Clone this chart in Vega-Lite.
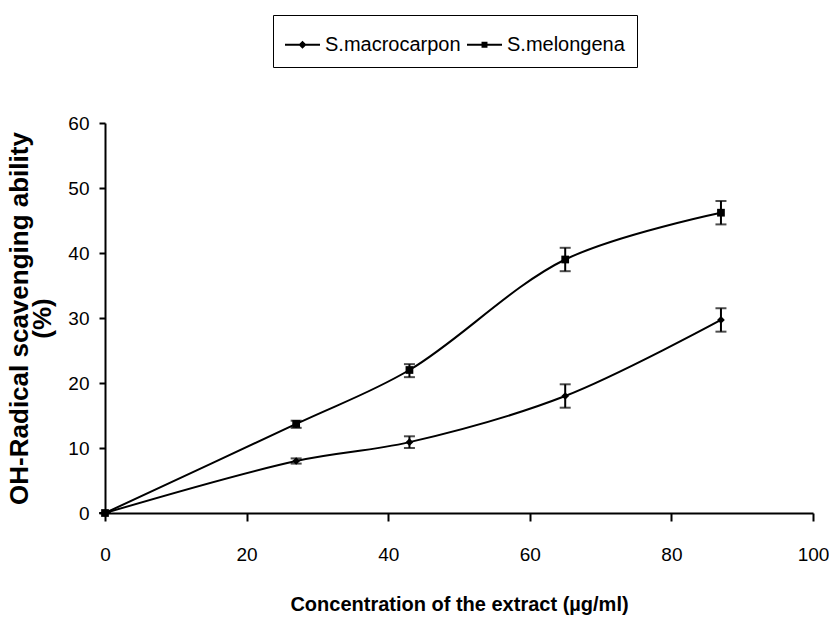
{
  "$schema": "https://vega.github.io/schema/vega-lite/v6.json",
  "width": 708,
  "height": 390,
  "padding": {"left": 6, "top": 14, "right": 10, "bottom": 5},
  "background": "white",
  "config": {
    "view": {"stroke": null},
    "font": "Liberation Sans",
    "axis": {"grid": false, "domainColor": "black", "tickColor": "black", "labelColor": "black", "titleColor": "black", "domainWidth": 2, "tickWidth": 2}
  },
  "resolve": {"scale": {"shape": "independent"}, "legend": {"shape": "independent"}},
  "data": {
    "values": [
      {"series": "S.macrocarpon", "name": "S.macrocarpon", "x": 0, "y": 0, "lo": 0, "hi": 0},
      {"series": "S.macrocarpon", "name": "S.macrocarpon", "x": 27, "y": 8.0, "lo": 7.6, "hi": 8.4},
      {"series": "S.macrocarpon", "name": "S.macrocarpon", "x": 43, "y": 10.9, "lo": 10.0, "hi": 11.8},
      {"series": "S.macrocarpon", "name": "S.macrocarpon", "x": 65, "y": 18.0, "lo": 16.2, "hi": 19.8},
      {"series": "S.macrocarpon", "name": "S.macrocarpon", "x": 87, "y": 29.7, "lo": 27.9, "hi": 31.5},
      {"series": "S.melongena", "name": "S.melongena", "x": 0, "y": 0, "lo": 0, "hi": 0},
      {"series": "S.melongena", "name": "S.melongena", "x": 27, "y": 13.7, "lo": 13.1, "hi": 14.2},
      {"series": "S.melongena", "name": "S.melongena", "x": 43, "y": 22.0, "lo": 20.9, "hi": 22.9},
      {"series": "S.melongena", "name": "S.melongena", "x": 65, "y": 39.0, "lo": 37.2, "hi": 40.8},
      {"series": "S.melongena", "name": "S.melongena", "x": 87, "y": 46.2, "lo": 44.4, "hi": 48.0}
    ]
  },
  "encoding": {
    "x": {
      "field": "x", "type": "quantitative",
      "scale": {"domain": [0, 100], "nice": false},
      "axis": {"values": [0, 20, 40, 60, 80, 100], "title": "Concentration of the extract (µg/ml)", "titleFontWeight": "bold", "titleFontSize": 20, "titlePadding": 30, "labelFontSize": 19, "labelPadding": 24, "tickSize": 8, "labelFlush": false}
    }
  },
  "layer": [
    {
      "mark": {"type": "line", "interpolate": "catmull-rom", "color": "black", "strokeWidth": 2},
      "encoding": {
        "y": {
          "field": "y", "type": "quantitative",
          "scale": {"domain": [0, 60], "nice": false},
          "axis": {"values": [0, 10, 20, 30, 40, 50, 60], "title": ["OH-Radical scavenging ability", "(%)"], "titleFontWeight": "bold", "titleFontSize": 26, "titleLineHeight": 23, "titlePadding": 12, "labelFontSize": 19, "labelPadding": 10, "tickSize": 6}
        },
        "detail": {"field": "series"}
      }
    },
    {
      "mark": {"type": "rule", "color": "black", "strokeWidth": 2},
      "encoding": {"y": {"field": "lo", "type": "quantitative"}, "y2": {"field": "hi"}}
    },
    {
      "mark": {"type": "tick", "color": "black", "orient": "horizontal", "size": 11, "thickness": 2},
      "encoding": {"y": {"field": "lo", "type": "quantitative"}}
    },
    {
      "mark": {"type": "tick", "color": "black", "orient": "horizontal", "size": 11, "thickness": 2},
      "encoding": {"y": {"field": "hi", "type": "quantitative"}}
    },
    {
      "mark": {"type": "point", "filled": true, "opacity": 1, "color": "black", "size": 60},
      "encoding": {
        "y": {"field": "y", "type": "quantitative"},
        "shape": {
          "field": "series", "type": "nominal",
          "scale": {"domain": ["S.macrocarpon", "S.melongena"], "range": ["diamond", "square"]},
          "legend": null
        }
      }
    },
    {
      "mark": {"type": "point", "opacity": 0, "filled": true, "color": "black"},
      "encoding": {
        "y": {"field": "y", "type": "quantitative"},
        "shape": {
          "field": "name", "type": "nominal",
          "scale": {"domain": ["S.macrocarpon", "S.melongena"], "range": ["M-1,-0.055H1V0.055H-1ZM-0.23,0L0,-0.23L0.23,0L0,0.23Z", "M-1,-0.055H1V0.055H-1ZM-0.17,-0.17H0.17V0.17H-0.17Z"]},
          "legend": {
            "title": null, "orient": "none", "direction": "horizontal", "legendX": 168, "legendY": -108,
            "strokeColor": "black", "padding": 12, "labelFontSize": 20, "labelColor": "black",
            "symbolSize": 1225, "symbolFillColor": "black", "symbolStrokeColor": "black", "symbolStrokeWidth": 0, "symbolOpacity": 1,
            "columnPadding": 6, "labelOffset": 5, "labelLimit": 300,
            "encode": {"symbols": {"update": {"opacity": {"value": 1}, "fill": {"value": "black"}, "fillOpacity": {"value": 1}}}}
          }
        }
      }
    }
  ]
}
